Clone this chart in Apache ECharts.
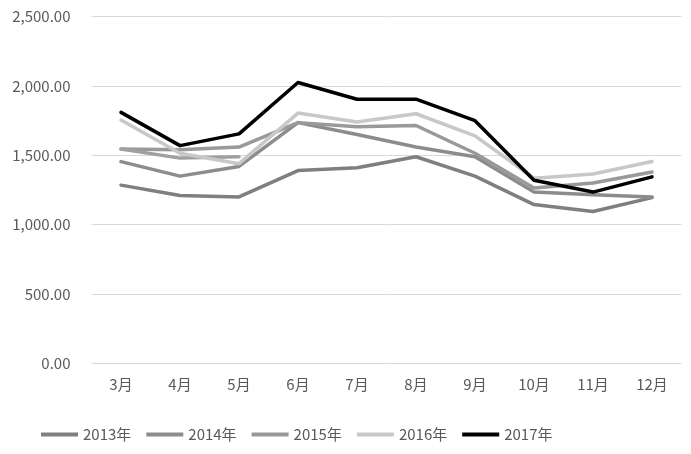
<!DOCTYPE html>
<html>
<head>
<meta charset="utf-8">
<script src="https://cdn.jsdelivr.net/npm/echarts@6/dist/echarts.min.js"></script>
<style>
    html, body { margin: 0; padding: 0; background: #fff; }
    #chart { width: 691px; height: 454px; }
</style>
</head>
<body>
<div id="chart"></div>
<script>
    // 月份
    const months = ["3月", "4月", "5月", "6月", "7月", "8月", "9月", "10月", "11月", "12月"];
    // 各年份数据
    const y2013 = [1285, 1210, 1200, 1390, 1410, 1490, 1350, 1145, 1095, 1195];
    const y2014 = [1455, 1350, 1420, 1736, 1650, 1560, 1490, 1235, 1215, 1200];
    const y2015 = [1545, 1540, 1560, 1736, 1707, 1715, 1515, 1265, 1300, 1380];
    const y2016 = [1755, 1515, 1440, 1805, 1740, 1800, 1640, 1335, 1365, 1455];
    const y2017 = [1810, 1570, 1655, 2025, 1905, 1905, 1750, 1320, 1235, 1345];
    const y2018 = [1545, 1480, 1490, null, null, null, null, null, null, null];
    const legendNames = ["2013年", "2014年", "2015年", "2016年", "2017年"];
    const yTicks = [0, 500, 1000, 1500, 2000, 2500];

    const font = "'Noto Sans CJK SC', 'Noto Sans', sans-serif";
    const chart = echarts.init(document.getElementById("chart"));

    const mkLine = (name, data, color, z) => ({
        name: name,
        type: "line",
        data: data,
        symbol: "none",
        z: z,
        lineStyle: { color: color, width: 3.5, cap: "round", join: "round" },
        itemStyle: { color: color }
    });

    chart.setOption({
        animation: false,
        backgroundColor: "#fff",
        grid: { left: 91.5, right: 9.5, top: 16.7, bottom: 90.7 },
        legend: {
            data: legendNames,
            left: 36,
            top: 422,
            icon: "rect",
            itemWidth: 37,
            itemHeight: 4,
            itemGap: 15,
            textStyle: { color: "#595959", fontSize: 15, fontFamily: font }
        },
        xAxis: {
            type: "category",
            data: months,
            boundaryGap: true,
            axisLine: { show: false },
            axisTick: { show: false },
            axisLabel: { color: "#595959", fontSize: 15, fontFamily: font, margin: 13 }
        },
        yAxis: {
            type: "value",
            min: yTicks[0],
            max: yTicks[yTicks.length - 1],
            interval: 500,
            axisLine: { show: false },
            axisTick: { show: false },
            splitLine: { lineStyle: { color: "#d9d9d9", width: 1 } },
            axisLabel: {
                color: "#595959",
                fontSize: 15,
                fontFamily: font,
                margin: 21,
                formatter: (v) => v.toLocaleString("en-US", { minimumFractionDigits: 2, maximumFractionDigits: 2 })
            }
        },
        series: [
            mkLine("2013年", y2013, "#7f7f7f", 2),
            mkLine("2014年", y2014, "#8c8c8c", 3),
            mkLine("2015年", y2015, "#999999", 4),
            mkLine("2018年", y2018, "#a0a0a0", 5),
            mkLine("2016年", y2016, "#c8c8c8", 6),
            mkLine("2017年", y2017, "#000000", 7)
        ]
    });
</script>
</body>
</html>
